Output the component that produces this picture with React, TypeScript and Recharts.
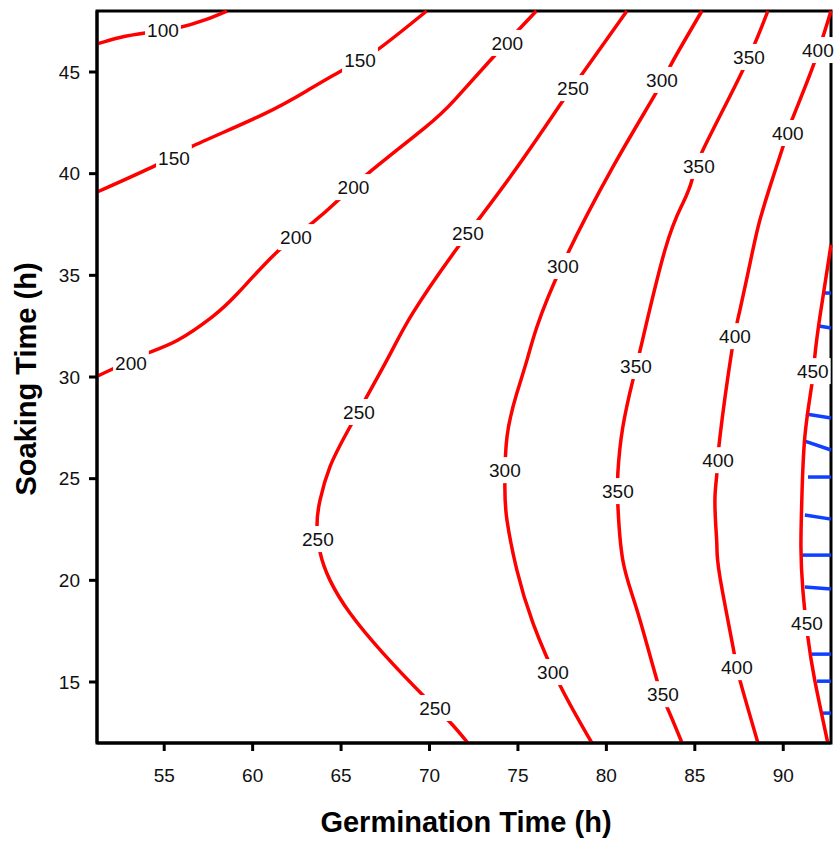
import { ComposedChart, Line, Scatter, XAxis, YAxis, ReferenceArea, Label } from 'recharts'

const X_DOMAIN: [number, number] = [51.2, 92.7]
const Y_DOMAIN: [number, number] = [12, 48]
const xTicks = [55, 60, 65, 70, 75, 80, 85, 90]
const yTicks = [15, 20, 25, 30, 35, 40, 45]

// contour traces, [germination, soaking]
const c100 = [[51.2, 46.38], [52.5, 46.7], [54.0, 46.93], [55.8, 47.18], [57.3, 47.56], [58.55, 48]]
const c150 = [[51.24, 39.11], [54.57, 40.43], [56.55, 41.33], [60.51, 42.88], [63.13, 44.11], [65.11, 45.1], [66.91, 46.0], [69.84, 48]]
const c200 = [[51.24, 30.05], [54.08, 31.18], [55.78, 31.82], [57.7, 32.95], [59.17, 34.13], [61.38, 36.15], [63.36, 37.57], [64.85, 38.7], [66.55, 40.03], [69.71, 42.24], [71.41, 43.62], [73.61, 45.74], [76.04, 48]]
const c250 = [[81.16, 48], [78.67, 44.95], [77.49, 43.52], [74.72, 40.03], [71.61, 36.39], [69.06, 33.15], [67.59, 30.83], [65.5, 27.54], [64.37, 25.58], [63.81, 23.95], [63.64, 22.7], [63.81, 21.39], [64.37, 20.01], [65.5, 18.39], [67.37, 16.42], [69.63, 14.35], [71.15, 13.03], [72.17, 12.0]]
const c300 = [[85.4, 48], [83.7, 45.44], [82.74, 43.87], [80.37, 40.33], [77.5, 35.5], [76.07, 32.46], [75.51, 30.83], [74.94, 29.21], [74.38, 27.05], [74.26, 24.59], [74.38, 22.96], [74.94, 20.5], [75.85, 17.9], [77.37, 14.85], [79.18, 12.0]]
const c350 = [[89.13, 48], [87.72, 45.1], [85.46, 41.16], [84.84, 39.69], [84.33, 38.56], [83.31, 36.24], [81.95, 31.47], [81.5, 29.85], [80.93, 27.54], [80.65, 25.28], [80.65, 23.7], [80.93, 20.99], [81.73, 18.54], [82.86, 15.09], [83.43, 13.76], [84.28, 12.0]]
const c400 = [[92.7, 48], [91.67, 45.25], [90.49, 42.64], [89.98, 41.31], [89.24, 39.34], [88.68, 37.72], [88.28, 36.24], [87.55, 33.29], [87.1, 31.33], [86.42, 27.05], [86.25, 25.28], [86.14, 24.09], [86.19, 22.62], [86.25, 21.64], [86.42, 20.16], [87.16, 16.72], [87.55, 15.09], [88.57, 12.0]]
const c450 = [[92.7, 36.5], [92.07, 32.95], [91.78, 30.98], [91.61, 29.6], [91.22, 27.05], [91.05, 23.95], [91.0, 21.64], [91.11, 19.52], [91.39, 17.21], [91.78, 15.09], [92.52, 12.0]]

const contourLabels: [number, number, string][] = [
  [54.93, 47.07, '100'],
  [55.55, 40.77, '150'], [66.07, 45.59, '150'],
  [53.12, 30.69, '200'], [62.45, 36.88, '200'], [65.7, 39.34, '200'], [74.4, 46.43, '200'],
  [78.11, 44.21, '250'], [72.17, 37.08, '250'], [66.01, 28.28, '250'], [63.69, 22.03, '250'], [70.31, 13.72, '250'],
  [83.14, 44.61, '300'], [77.54, 35.46, '300'], [74.26, 25.42, '300'], [76.98, 15.49, '300'],
  [88.06, 45.74, '350'], [85.23, 40.38, '350'], [81.67, 30.54, '350'], [80.65, 24.39, '350'], [83.2, 14.4, '350'],
  [91.96, 46.08, '400'], [90.26, 42.0, '400'], [87.27, 32.01, '400'], [86.31, 25.91, '400'], [87.38, 15.73, '400'],
  [91.67, 30.29, '450'], [91.34, 17.9, '450'],
]

// blue hatch strokes past the 450 contour: [xStart, yStart, yEnd] to the right edge
const blueHatch: [number, number, number][] = [
  [92.35, 34.13, 34.13], [92.01, 32.51, 32.41], [91.28, 28.18, 27.98], [91.22, 26.85, 26.41],
  [91.4, 25.08, 25.08], [91.22, 23.21, 23.01], [91.06, 21.24, 21.24], [91.22, 19.67, 19.57],
  [91.62, 16.37, 16.37], [91.91, 15.04, 15.04], [92.24, 13.47, 13.47],
]

const contours = [c100, c150, c200, c250, c300, c350, c400, c450].map(c => c.map(([x, y]) => ({ x, y })))
const labelData = contourLabels.map(([x, y, t]) => ({ x, y, t }))
const hatchData = blueHatch.map(([x0, y0, y1]) => [{ x: x0, y: y0 }, { x: X_DOMAIN[1], y: y1 }])

const FONT = '"Liberation Sans", Arial, sans-serif'

const ContourLabel = (props: any) => {
  const { cx, cy, payload } = props
  if (cx == null || cy == null) return null
  const w = payload.t.length * 10.6 + 4
  return (
    <g>
      <rect x={cx - w / 2} y={cy - 13} width={w} height={26} fill="#fff" />
      <text x={cx} y={cy} dy="0.36em" textAnchor="middle" fontSize={19} fill="#111" fontFamily={FONT}>{payload.t}</text>
    </g>
  )
}

const XTitle = ({ viewBox }: any) => (
  <text x={viewBox.x + viewBox.width / 2 + 2} y={832} textAnchor="middle" fontSize={29} fontWeight="bold" fill="#000" fontFamily={FONT}>
    Germination Time (h)
  </text>
)

const YTitle = ({ viewBox }: any) => {
  const cy = viewBox.y + viewBox.height / 2 + 2
  return (
    <text x={0} y={0} transform={`translate(36, ${cy}) rotate(-90)`} textAnchor="middle" fontSize={29} fontWeight="bold" fill="#000" fontFamily={FONT}>
      Soaking Time (h)
    </text>
  )
}

export default function App() {
  return (
    <div style={{ position: 'absolute', left: 0, top: 0, background: '#fff', fontFamily: FONT }}>
      <ComposedChart width={835} height={847} margin={{ top: 11, right: 4, left: 0, bottom: 0 }}>
        <XAxis type="number" dataKey="x" domain={X_DOMAIN} ticks={xTicks} height={104} tickSize={8} tickMargin={18}
          axisLine={{ stroke: '#000', strokeWidth: 3 }} tickLine={{ stroke: '#000', strokeWidth: 3 }}
          tick={{ fontSize: 19, fill: '#111', fontFamily: FONT }}>
          <Label content={XTitle} />
        </XAxis>
        <YAxis type="number" dataKey="y" domain={Y_DOMAIN} ticks={yTicks} width={97} tickSize={8} tickMargin={9}
          axisLine={{ stroke: '#000', strokeWidth: 3 }} tickLine={{ stroke: '#000', strokeWidth: 3 }}
          tick={{ fontSize: 19, fill: '#111', fontFamily: FONT }}>
          <Label content={YTitle} />
        </YAxis>
        <ReferenceArea x1={X_DOMAIN[0]} x2={X_DOMAIN[1]} y1={Y_DOMAIN[0]} y2={Y_DOMAIN[1]} fill="none" stroke="#000" strokeWidth={3} fillOpacity={0} />
        {hatchData.map((d, i) => (
          <Line key={'h' + i} data={d} dataKey="y" type="linear" stroke="#1040ff" strokeWidth={3.5} dot={false} activeDot={false} isAnimationActive={false} />
        ))}
        {contours.map((d, i) => (
          <Line key={'c' + i} data={d} dataKey="y" type="natural" stroke="#ff0000" strokeWidth={3.5} dot={false} activeDot={false} isAnimationActive={false} />
        ))}
        <Scatter data={labelData} dataKey="y" shape={ContourLabel} isAnimationActive={false} />
      </ComposedChart>
    </div>
  )
}
